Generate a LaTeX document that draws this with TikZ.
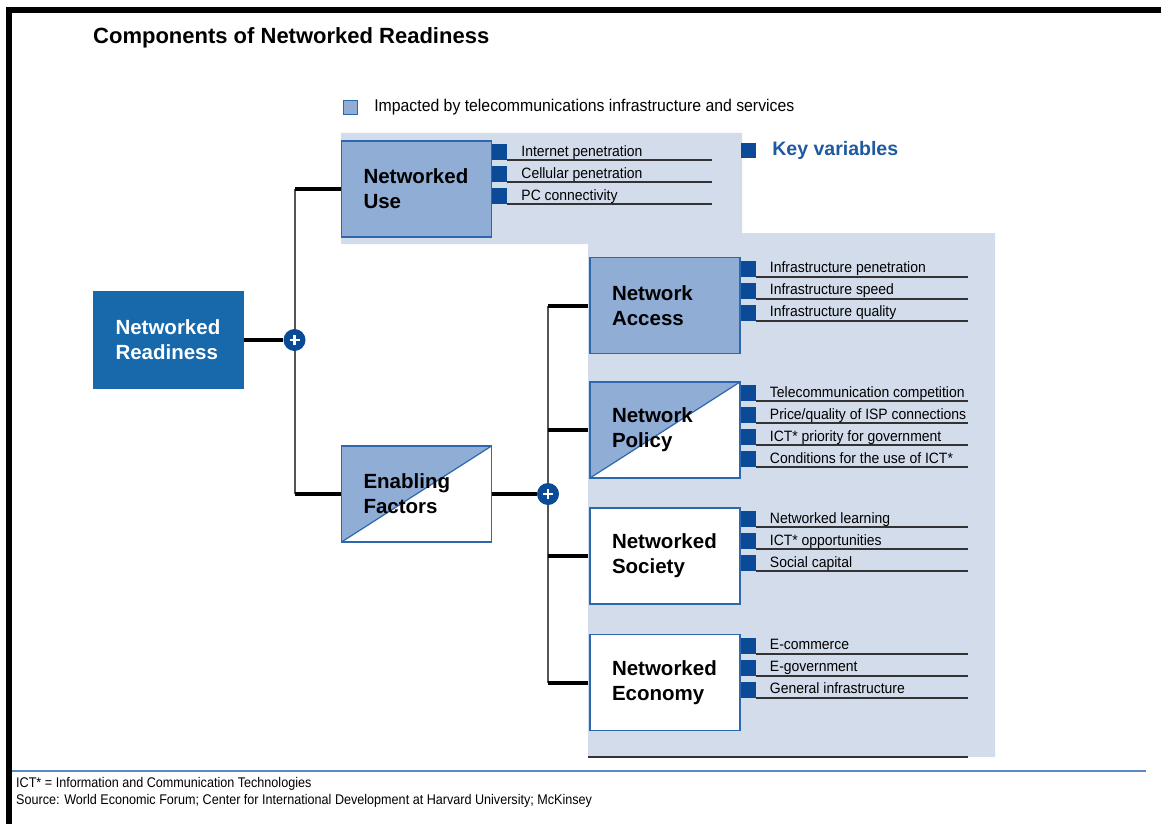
\documentclass[tikz,border=0pt]{standalone}
\usepackage{fontspec}
\setmainfont{Liberation Sans}
\newfontfamily\itemfont[FakeStretch=0.93]{Liberation Sans}
\newfontfamily\notefont[FakeStretch=0.9]{Liberation Sans}
\usetikzlibrary{positioning}
\definecolor{paleblue}{HTML}{D3DCEB}
\definecolor{boxblue}{HTML}{8FADD5}
\definecolor{edgeblue}{HTML}{2D67AD}
\definecolor{darkblue}{HTML}{1868AC}
\definecolor{navy}{HTML}{0B4A96}
\definecolor{keyblue}{HTML}{1E5AA0}
\definecolor{ruleblue}{HTML}{5A8AC6}
\definecolor{trunkgray}{HTML}{555555}
\pgfdeclarelayer{bg}
\pgfsetlayers{bg,main}

\tikzset{
  comp/.style={draw=edgeblue, line width=1.5pt, text width=106pt, inner xsep=22pt,
    minimum height=96pt, align=left, font=\fontsize{20.5pt}{25pt}\selectfont\bfseries},
  halfcomp/.style={comp, fill=white, path picture={
    \fill[boxblue] (path picture bounding box.south west) -- (path picture bounding box.north west)
      -- (path picture bounding box.north east) -- cycle;
    \draw[edgeblue, line width=1.2pt] (path picture bounding box.south west) -- (path picture bounding box.north east);}},
  junction/.style={circle, fill=navy, minimum size=22pt, inner sep=0pt, path picture={
    \draw[white, line width=2.6pt] ([xshift=-5pt]path picture bounding box.center) -- ([xshift=5pt]path picture bounding box.center);
    \draw[white, line width=2.6pt] ([yshift=-5pt]path picture bounding box.center) -- ([yshift=5pt]path picture bounding box.center);}},
  branch/.style={line width=4pt, black},
  trunk/.style={line width=2pt, trunkgray},
  itemrule/.style={line width=1.6pt, black!80},
  itemtext/.style={inner sep=0pt, font=\fontsize{15pt}{18pt}\selectfont\itemfont}
}

% key variables next to a component: node, end of rules, labels
\newcommand{\keyitems}[3]{%
  \coordinate (ruleend) at (#2,0);
  \foreach \txt [count=\i] in {#3} {
    \path (#1.north east) ++(0,{4+22*(\i-1)}) coordinate (sq);
    \fill[navy] (sq) rectangle ++(15,16);
    \path (sq) ++(15,16) coordinate (ln);
    \draw[itemrule] (ln) -- (ln -| ruleend);
    \path (ln) ++(14,-4) node[itemtext, anchor=base west] {\txt};
  }
}

\begin{document}
\begin{tikzpicture}[x=1pt,y=-1pt]
  \useasboundingbox (0,0) rectangle (1161,824);
  \begin{pgfonlayer}{bg}
    \fill[white] (0,0) rectangle (1161,824);
  \end{pgfonlayer}

  % frame
  \fill[black] (6,7) rectangle (1161,13);
  \fill[black] (6,7) rectangle (12,824);

  % title and legend
  \node[anchor=west, inner sep=0pt, font=\fontsize{22pt}{26pt}\selectfont\bfseries] (title) at (93,38) {Components of Networked Readiness};
  \node[draw=edgeblue, fill=boxblue, line width=1.2pt, minimum size=14pt, inner sep=0pt] (legsq) at (350.5,107.5) {};
  \node[right=16pt of legsq, inner sep=0pt, font=\fontsize{17pt}{20pt}\selectfont\itemfont] (legtxt) {Impacted by telecommunications infrastructure and services};

  % impacted area
  \fill[paleblue] (341,133) -| (742,233) -| (995,757) -| (588,244) -| cycle;
  \draw[itemrule] (588,757) -- (968,757);

  \node[fill=navy, minimum size=15pt, inner sep=0pt] (keysq) at (748.5,150) {};
  \node[right=16pt of keysq, inner sep=0pt, text=keyblue, font=\fontsize{19.5pt}{23pt}\selectfont\bfseries] (keytxt) {Key variables};

  % components
  \node[comp, fill=darkblue, draw=darkblue, text=white] (ready) at (168.5,340) {Networked\\Readiness};
  \node[comp, fill=boxblue] (use) at (416.5,189) {Networked\\Use};
  \node[halfcomp] (enabling) at (416.5,494) {Enabling\\Factors};
  \node[comp, fill=boxblue] (access) at (665,305.5) {Network\\Access};
  \node[halfcomp] (policy) at (665,430) {Network\\Policy};
  \node[comp, fill=white] (society) at (665,556) {Networked\\Society};
  \node[comp, fill=white] (economy) at (665,682.5) {Networked\\Economy};

  \node[junction] (j1) at (294.5,340) {};
  \node[junction] (j2) at (548,494) {};

  % connectors
  \begin{pgfonlayer}{bg}
    \draw[branch] (ready) -- (j1);
    \draw[trunk] (j1 |- use.west) -- (j1 |- enabling.west);
    \draw[branch] (j1 |- use.west) -- (use.west);
    \draw[branch] (j1 |- enabling.west) -- (enabling.west);
    \draw[branch] (enabling) -- (j2);
    \draw[trunk] (j2 |- access.west) -- (j2 |- economy.west);
    \foreach \n in {access,policy,society,economy}
      \draw[branch] (j2 |- \n.west) -- (\n.west);
  \end{pgfonlayer}

  % key variables
  \keyitems{use}{712}{Internet penetration,Cellular penetration,PC connectivity}
  \keyitems{access}{968}{Infrastructure penetration,Infrastructure speed,Infrastructure quality}
  \keyitems{policy}{968}{Telecommunication competition,Price/quality of ISP connections,ICT* priority for government,Conditions for the use of ICT*}
  \keyitems{society}{968}{Networked learning,ICT* opportunities,Social capital}
  \keyitems{economy}{968}{E-commerce,E-government,General infrastructure}

  % footer
  \draw[line width=2.5pt, ruleblue] (12,771) -- (1146,771);
  \node[anchor=west, inner sep=0pt, font=\fontsize{14pt}{16pt}\selectfont\notefont] (note) at (16,784) {ICT* = Information and Communication Technologies};
  \node[anchor=west, inner sep=0pt, font=\fontsize{14pt}{16pt}\selectfont\notefont] (source) at (16,801) {Source: World Economic Forum; Center for International Development at Harvard University; McKinsey};
\end{tikzpicture}
\end{document}
